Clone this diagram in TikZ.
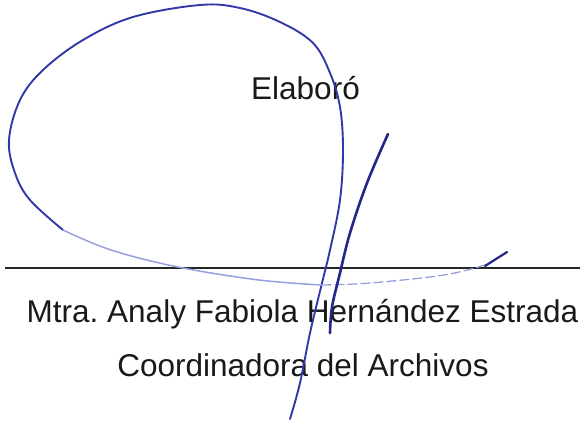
\documentclass[tikz,border=0pt]{standalone}
\usepackage{fontspec}
\setmainfont{Liberation Sans}
\definecolor{ink}{RGB}{50,56,168}
\definecolor{inkdark}{RGB}{36,38,138}
\definecolor{inkpale}{RGB}{150,160,220}

\begin{document}
\begin{tikzpicture}[x=1pt,y=-1pt,
  txt/.style={anchor=base,inner sep=0pt,font=\fontsize{31.5}{36}\selectfont,text=black!90},
  pen/.style={draw=ink,line width=1.9pt,line cap=round,line join=round}]
\useasboundingbox (0,0) rectangle (580,424);

\path (305.5,99) node[txt] (elab) {Elaboró};
\path (302.5,322) node[txt] (name) {Mtra.\ Analy Fabiola Hernández Estrada};
\path (303,376) node[txt] (cargo) {Coordinadora del Archivos};

\coordinate (rl) at (5,268);
\coordinate (rr) at (580,268);
\draw[line width=1.5pt,black!85] (rl) -- (rr);

\draw[pen] plot[smooth,tension=0.6] coordinates {(290,419) (300,383) (310,333) (322,283) (330,250)
  (340,200) (343,150) (340,107) (330,73) (313,43) (280,22) (240,8) (200,5) (133,17) (83,40)
  (43,70) (20,100) (9,140) (15,173) (30,200) (63,230)};
\draw[pen,draw=inkpale,line width=1.5pt] plot[smooth,tension=0.6] coordinates {(63,230) (111,250)
  (178,267) (259,280) (322,285)};
\draw[pen,draw=inkpale,line width=1.3pt,dash pattern=on 9pt off 4pt] plot[smooth,tension=0.6]
  coordinates {(322,285) (370,283) (444,275) (485,265)};
\draw[pen,draw=inkdark,line width=2.2pt] (485,266) -- (507,252);

\draw[pen,draw=inkdark,line width=2.6pt] plot[smooth,tension=0.6] coordinates {(330,333) (332,307)
  (340,273) (350,233) (367,183) (388,134)};
\end{tikzpicture}
\end{document}
